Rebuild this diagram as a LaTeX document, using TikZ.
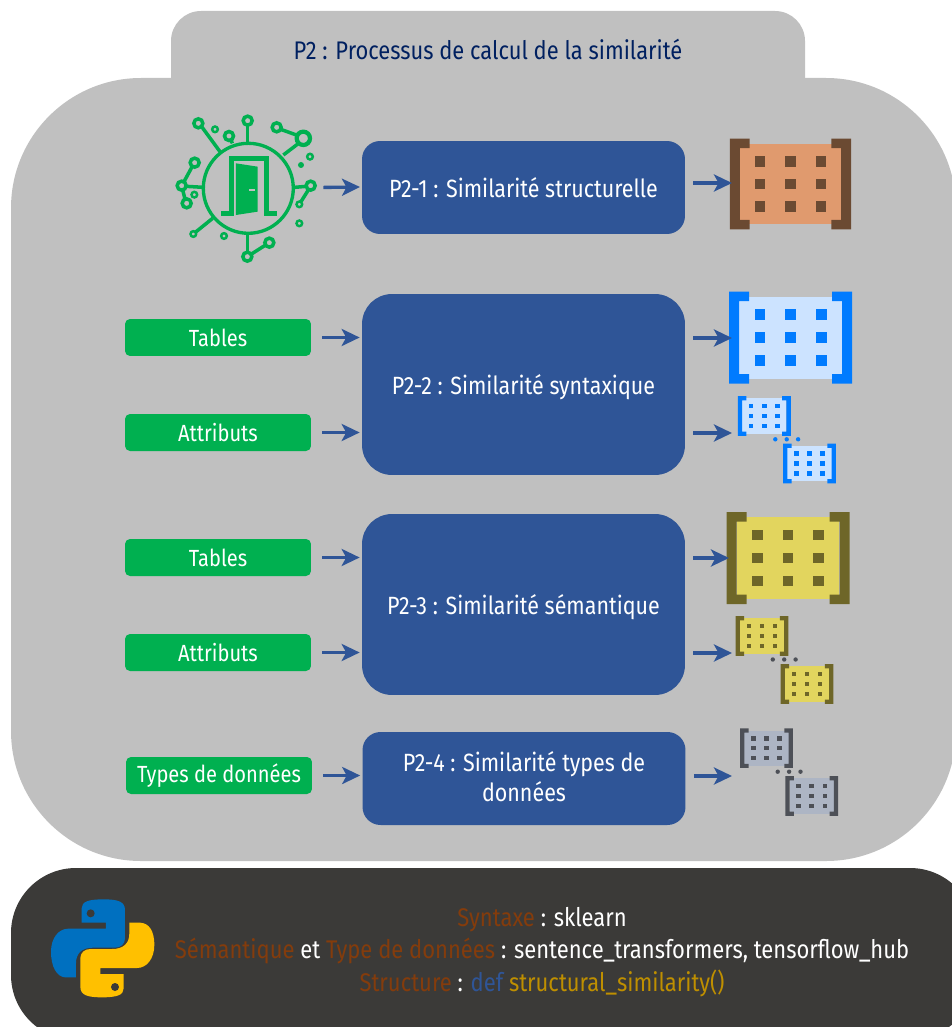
\documentclass[tikz,border=0pt]{standalone}
\usepackage{xcolor}
\usepackage{fontspec}
\setmainfont[FakeStretch=0.86]{Fira Sans}
\usetikzlibrary{arrows.meta}

\definecolor{panelgrey}{HTML}{C0C0C0}
\definecolor{paneldark}{HTML}{3B3A38}
\definecolor{simblue}{HTML}{2F5597}
\definecolor{navytext}{HTML}{002060}
\definecolor{leafgreen}{HTML}{00B050}
\definecolor{rustword}{HTML}{843C0C}
\definecolor{goldword}{HTML}{BF8F00}
\definecolor{pyblue}{HTML}{0070C0}
\definecolor{pygold}{HTML}{FFC000}
\definecolor{cellorange}{HTML}{E09A6E}
\definecolor{markbrown}{HTML}{6B4A32}
\definecolor{cellblue}{HTML}{CCE3FF}
\definecolor{markblue}{HTML}{007BFF}
\definecolor{cellyellow}{HTML}{E2D55E}
\definecolor{markolive}{HTML}{6E6628}
\definecolor{cellslate}{HTML}{ADB5C4}
\definecolor{markslate}{HTML}{4D5057}

\tikzset{
  simbox/.style={fill=simblue, text=white, rounded corners=0.36cm, minimum width=6.46cm, align=center, font=\fontsize{14.2}{17}\selectfont},
  tagbox/.style={fill=leafgreen, text=white, rounded corners=0.1cm, minimum width=3.72cm, minimum height=0.74cm, inner sep=0pt, font=\fontsize{13.3}{17}\selectfont},
  flow/.style={draw=simblue, line width=1.9pt, -{Stealth[length=0.36cm,width=0.34cm,inset=0.09cm]}},
  ring/.style={draw=leafgreen, line width=2pt},
  thinring/.style={draw=leafgreen, line width=1.4pt},
  libline/.style={text=white, font=\fontsize{14.55}{18}\selectfont},
}

% one bracketed table of cells: x, y, scale, body colour, mark colour
\newcommand{\matricon}[5]{
  \begin{scope}[shift={(#1,#2)},scale=#3]
    \fill[#4] (-51.3,-41) rectangle (51.3,41);
    \foreach \sgn in {-1,1}
      \fill[#5] (\sgn*61.5,-46) -- (\sgn*41.5,-46) -- (\sgn*41.5,-36.5) -- (\sgn*51.5,-36.5)
        -- (\sgn*51.5,36.5) -- (\sgn*41.5,36.5) -- (\sgn*41.5,46) -- (\sgn*61.5,46) -- cycle;
    \foreach \i in {-1,0,1}
      \foreach \j in {-1,0,1}
        \fill[#5] ({\i*30.7-5.3},{\j*23-5.3}) rectangle +(10.6,10.6);
  \end{scope}
}
% the three dots between two small tables
\newcommand{\gapdots}[3]{
  \foreach \k in {0,1,2}
    \fill[#3] ({#1+\k*11.4},#2) circle (2.2);
}

\begin{document}
\begin{tikzpicture}[x=0.02cm,y=-0.02cm]
  \useasboundingbox (0,0) rectangle (952,1027);
  \clip (0,0) rectangle (952,1027);

  % panels
  \fill[panelgrey, rounded corners=0.6cm] (171,11) rectangle (805,110);
  \fill[panelgrey, rounded corners=2.6cm] (11,78) rectangle (956,861);
  \fill[paneldark, rounded corners=1.3cm] (11,868) rectangle (975,1040);
  \node[text=navytext, font=\fontsize{14.5}{17}\selectfont] (title) at (488,49.5) {P2 : Processus de calcul de la similarité};

  % door icon
  \node[circle, draw=leafgreen, line width=1.9pt, minimum size=1.8cm, inner sep=0pt] (door) at (248.3,188.3) {};
  \begin{scope}[shift={(160,100)},x=0.02cm/3,y=-0.02cm/3]
    \foreach \a/\b in {115/70, 207/108, 263/62, 350/82, 452/257, 328/428, 262/470, 65/257, 104/188, 80/310}
      \draw[ring] (\a,\b) circle (13.5);
    \draw[ring, line width=2.4pt] (430,115) circle (20);
    \foreach \a/\b in {165/88, 450/170, 418/313, 418/370, 192/408, 100/402, 103/284}
      \draw[thinring] (\a,\b) circle (8.5);
    \fill[leafgreen] (423,195) circle (9);
    \draw[ring] (125,80) -- (180,155);
    \draw[ring] (213,120) -- (217,130);
    \draw[ring] (263,75) -- (263,125);
    \draw[ring] (362,88) -- (412,106);
    \draw[ring] (416,130) -- (370,165);
    \draw[ring] (439,259) -- (405,262);
    \draw[ring] (445,270) -- (423,305);
    \draw[ring] (317,435) -- (273,463);
    \draw[ring] (262,457) -- (262,405);
    \draw[ring] (106,397) -- (158,355);
    \draw[ring] (78,259) -- (130,262);
    \draw[ring] (97,199) -- (72,245);
    \draw[ring] (68,270) -- (75,297);
    \draw[ring, line width=2.5pt] (183,341) -- (215,341) -- (215,176) -- (320,176) -- (320,341) -- (350,341);
    \fill[leafgreen] (228,190) -- (293,200) -- (293,335) -- (228,345) -- cycle;
    \fill[panelgrey] (268,267) rectangle (285,273);
  \end{scope}

  % similarity boxes
  \node[simbox, minimum height=1.86cm] (sim1) at (523.5,187.5) {P2-1 : Similarité structurelle};
  \node[simbox, minimum height=3.62cm, rounded corners=0.6cm, text depth=0pt] (sim2) at (523.5,384.5) {P2-2 : Similarité syntaxique};
  \node[simbox, minimum height=3.62cm, rounded corners=0.6cm, text depth=0pt] (sim3) at (523.5,604.5) {P2-3 : Similarité sémantique};
  \node[simbox, minimum height=1.86cm, text depth=2.2pt] (sim4) at (524,778.5) {P2-4 : Similarité types de\\données};

  % inputs
  \node[tagbox] (tables2) at (218,337.5) {Tables};
  \node[tagbox] (attr2) at (218,432.5) {Attributs};
  \node[tagbox] (tables3) at (218,557.5) {Tables};
  \node[tagbox] (attr3) at (218,652.5) {Attributs};
  \node[tagbox] (types4) at (219,775.5) {Types de données};

  % outputs
  \matricon{790.5}{184}{0.985}{cellorange}{markbrown}
  \matricon{790.5}{337.7}{1}{cellblue}{markblue}
  \matricon{764.3}{416}{0.43}{cellblue}{markblue}
  \matricon{809.5}{463.5}{0.43}{cellblue}{markblue}
  \gapdots{775.3}{439.3}{markblue}
  \matricon{788}{558}{1}{cellyellow}{markolive}
  \matricon{762}{636}{0.43}{cellyellow}{markolive}
  \matricon{807}{684}{0.43}{cellyellow}{markolive}
  \gapdots{772.8}{659.5}{markslate}
  \matricon{766.5}{748.2}{0.43}{cellslate}{markslate}
  \matricon{811.7}{796}{0.43}{cellslate}{markslate}
  \gapdots{777.7}{771.7}{markslate}

  % arrow tips
  \coordinate (door tip) at (360,187);
  \coordinate (out1) at (732,183);
  \coordinate (out2) at (732,338);
  \coordinate (out2b) at (732,433);
  \coordinate (out3) at (729,558);
  \coordinate (out3b) at (732,653);
  \coordinate (out4) at (732,776);

  \draw[flow, shorten <=0.57cm] (door) -- (door tip);
  \draw[flow, shorten <=0.22cm, shorten >=0.04cm] (tables2) -- (tables2 -| sim2.west);
  \draw[flow, shorten <=0.22cm, shorten >=0.04cm] (attr2) -- (attr2 -| sim2.west);
  \draw[flow, shorten <=0.22cm, shorten >=0.04cm] (tables3) -- (tables3 -| sim3.west);
  \draw[flow, shorten <=0.22cm, shorten >=0.04cm] (attr3) -- (attr3 -| sim3.west);
  \draw[flow, shorten <=0.22cm, shorten >=0.04cm] (types4) -- (types4 -| sim4.west);

  \draw[flow, shorten <=0.16cm] (sim1.east |- out1) -- (out1);
  \draw[flow, shorten <=0.16cm] (sim2.east |- out2) -- (out2);
  \draw[flow, shorten <=0.16cm] (sim2.east |- out2b) -- (out2b);
  \draw[flow, shorten <=0.16cm] (sim3.east |- out3) -- (out3);
  \draw[flow, shorten <=0.16cm] (sim3.east |- out3b) -- (out3b);
  \draw[flow, shorten <=0.16cm] (sim4.east |- out4) -- (out4);

  % python logo
  \begin{scope}[shift={(30,880)},x=0.02cm/3,y=-0.02cm/3]
    \fill[pyblue] (155,128) -- (155,85) .. controls (155,65) and (175,58) .. (220,58) .. controls (265,58) and (285,65) .. (285,90)
      -- (285,175) .. controls (285,192) and (272,203) .. (255,203) -- (190,203) .. controls (155,203) and (138,220) .. (138,250)
      -- (138,292) -- (105,292) .. controls (80,290) and (63,260) .. (63,215) .. controls (63,175) and (85,146) .. (115,146)
      -- (228,146) -- (228,128) -- cycle;
    \fill[pygold] (281,282) -- (281,325) .. controls (281,345) and (261,352) .. (216,352) .. controls (171,352) and (151,345) .. (151,320)
      -- (151,235) .. controls (151,218) and (164,207) .. (181,207) -- (246,207) .. controls (281,207) and (298,190) .. (298,160)
      -- (298,128) -- (331,128) .. controls (356,130) and (373,150) .. (373,195) .. controls (373,235) and (351,264) .. (321,264)
      -- (211,264) -- (211,282) -- cycle;
    \fill[paneldark] (182,100) circle (12);
    \fill[paneldark] (255,321) circle (12);
  \end{scope}

  % libraries used
  \node[libline] (libs1) at (542,920) {\textcolor{rustword}{Syntaxe} : sklearn};
  \node[libline] (libs2) at (542,951) {\textcolor{rustword}{Sémantique} et \textcolor{rustword}{Type de données} : sentence\_transformers, tensorflow\_hub};
  \node[libline] (libs3) at (542,983) {\textcolor{rustword}{Structure} : \textcolor{simblue}{def} \textcolor{goldword}{structural\_similarity()}};
\end{tikzpicture}
\end{document}
